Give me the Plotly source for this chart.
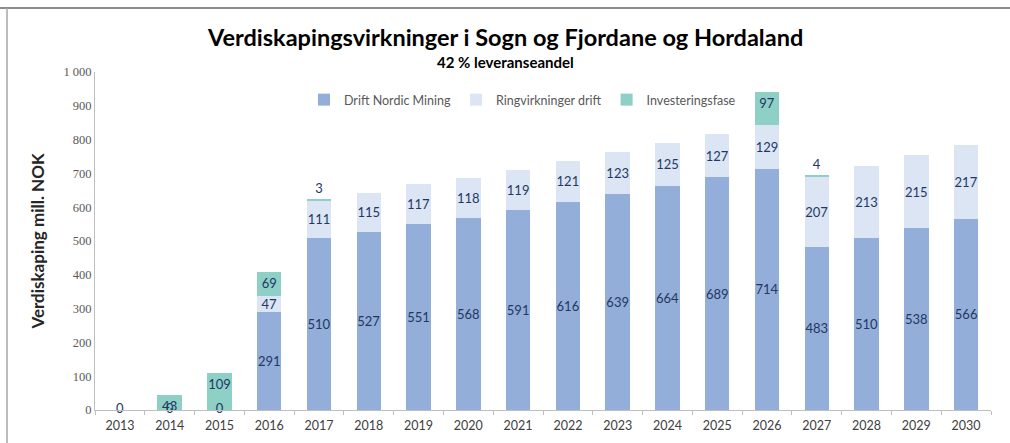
import plotly.graph_objects as go

years = [str(y) for y in range(2013, 2031)]
drift_nordic = [0, 0, 0, 291, 510, 527, 551, 568, 591, 616, 639, 664, 689, 714, 483, 510, 538, 566]
ringvirkninger = [0, 0, 0, 47, 111, 115, 117, 118, 119, 121, 123, 125, 127, 129, 207, 213, 215, 217]
investering = [0, 43, 109, 69, 3, 0, 0, 0, 0, 0, 0, 0, 0, 97, 4, 0, 0, 0]

W, H = 1010, 443
L, R, T, B = 95, 19, 72, 33

label_col = "#1f3864"
label_font = dict(color=label_col, size=13, family="Lato, sans-serif")
drift_text = [str(v) if v > 0 else "" for v in drift_nordic]
ring_text = [str(v) if v > 0 else "" for v in ringvirkninger]
inv_text = [str(v) if v > 0 else "" for v in investering]
inv_pos = ["outside" if 0 < v < 20 else "inside" for v in investering]

zero_x = [y for y, v in zip(years, drift_nordic) if v == 0]
zero_y = [v for v in drift_nordic if v == 0]

fig = go.Figure()
fig.add_trace(go.Bar(
    x=years, y=drift_nordic, name="Drift Nordic Mining",
    marker=dict(color="#93aed8", line=dict(width=0)),
    text=drift_text, textposition="inside", insidetextanchor="middle", textangle=0,
    textfont=label_font, hoverinfo="skip",
))
fig.add_trace(go.Bar(
    x=years, y=ringvirkninger, name="Ringvirkninger drift",
    marker=dict(color="#dbe5f4", line=dict(width=0)),
    text=ring_text, textposition="inside", insidetextanchor="middle", textangle=0,
    textfont=label_font, hoverinfo="skip",
))
fig.add_trace(go.Bar(
    x=years, y=investering, name="Investeringsfase",
    marker=dict(color="#8ecfc6", line=dict(width=0)),
    text=inv_text, textposition=inv_pos, insidetextanchor="end", textangle=0,
    textfont=label_font, cliponaxis=False, hoverinfo="skip",
))
fig.add_trace(go.Scatter(
    x=zero_x, y=zero_y, mode="text", text=[str(v) for v in zero_y],
    textposition="middle center", textfont=label_font, showlegend=False,
    cliponaxis=False, hoverinfo="skip",
))

def px_x(p):
    return (p - L) / (W - L - R)

def px_y(p):
    return (H - B - p) / (H - T - B)

fig.update_layout(
    width=W, height=H,
    margin=dict(l=L, r=R, t=T, b=B, pad=0),
    barmode="stack", bargap=0.51,
    paper_bgcolor="white", plot_bgcolor="white",
    font=dict(family="Lato, Open Sans, sans-serif", color="#595959", size=12),
    separators=", ",
    uniformtext=dict(mode="show", minsize=13),
    showlegend=True,
    hovermode=False,
    legend=dict(orientation="h", x=px_x(304), xanchor="left", y=px_y(100), yanchor="middle",
                font=dict(size=12.5, color="#595959"), itemwidth=30,
                bgcolor="rgba(0,0,0,0)", traceorder="normal"),
    xaxis=dict(type="category", showgrid=False, showline=True, linecolor="#bfbfbf",
               ticks="outside", ticklen=4, tickcolor="#bfbfbf", tickson="boundaries",
               tickfont=dict(size=12.5, color="#404040"), range=[-0.5, 17.5],
               ticklabelstandoff=4, automargin=False),
    yaxis=dict(range=[0, 1000], dtick=100, tickformat=",d", showgrid=False,
               showline=True, linecolor="#bfbfbf", ticks="", ticklen=0,
               tickfont=dict(size=12.5, color="#595959", family="Liberation Serif, serif"),
               zeroline=False, automargin=False,
               title=dict(text="<b>Verdiskaping mill. NOK</b>", standoff=14,
                          font=dict(size=17, color="#262626"))),
    annotations=[
        dict(text="<b>Verdiskapingsvirkninger i Sogn og Fjordane og Hordaland</b>",
             xref="paper", yref="paper", x=px_x(505), y=px_y(37), xanchor="center",
             yanchor="middle", showarrow=False,
             font=dict(size=23.5, color="#000000", family="Lato, sans-serif")),
        dict(text="<b>42 % leveranseandel</b>",
             xref="paper", yref="paper", x=px_x(505), y=px_y(62), xanchor="center",
             yanchor="middle", showarrow=False,
             font=dict(size=15, color="#000000", family="Lato, sans-serif")),
    ],
    shapes=[
        dict(type="line", xref="paper", yref="paper",
             x0=px_x(0), x1=px_x(1010), y0=px_y(8), y1=px_y(8),
             line=dict(color="#8c8c8c", width=2)),
        dict(type="line", xref="paper", yref="paper",
             x0=px_x(7), x1=px_x(7), y0=px_y(8), y1=px_y(443),
             line=dict(color="#a6a6a6", width=1.5)),
    ],
)

fig.write_html("out.html", config={"displayModeBar": False},
               post_script="document.body.style.margin='0';document.body.style.overflow='hidden';")
